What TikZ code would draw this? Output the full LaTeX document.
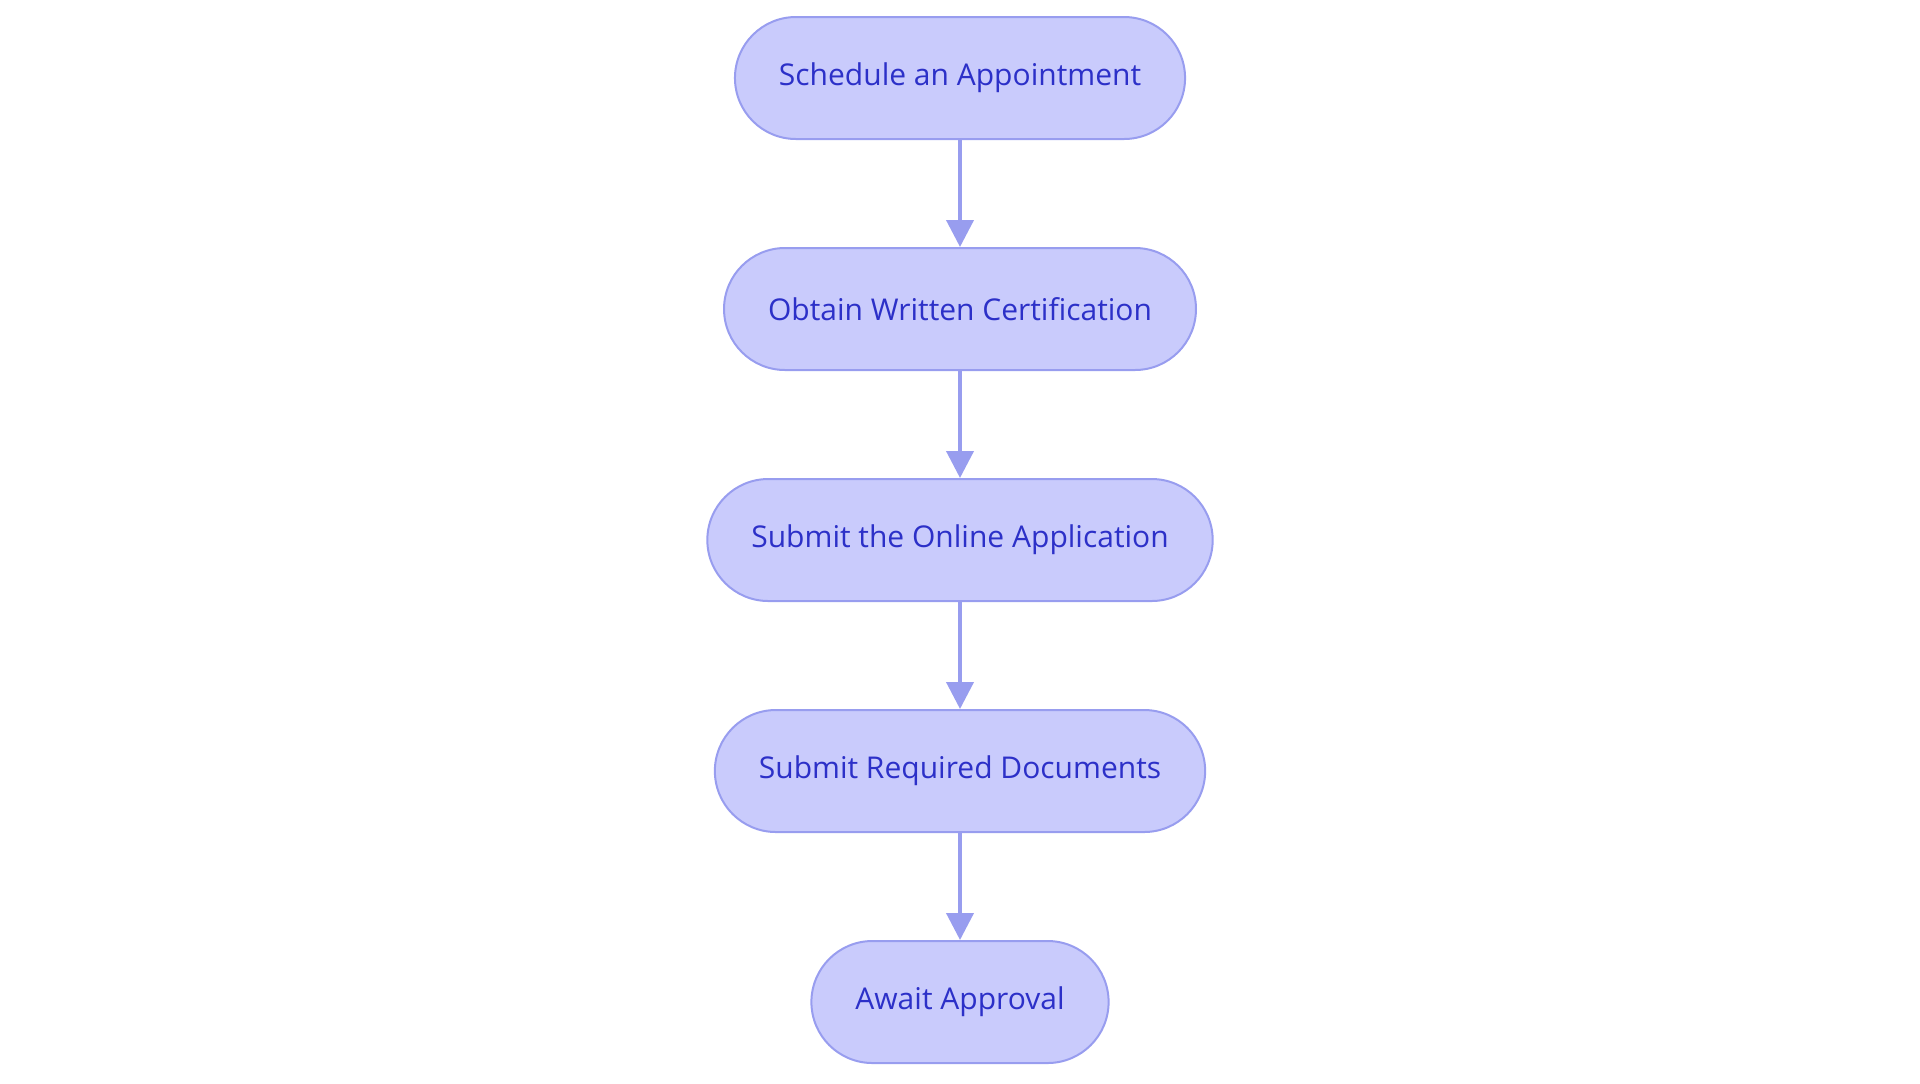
\documentclass[tikz,border=0pt]{standalone}
\usepackage{fontspec}
\setmainfont{Open Sans}
\usetikzlibrary{arrows.meta}
\definecolor{stepfill}{RGB}{201,203,252}
\definecolor{stepline}{RGB}{152,157,239}
\definecolor{steptext}{RGB}{44,48,200}
\tikzset{
  stepbox/.style={draw=stepline, fill=stepfill, line width=1pt,
    rounded corners=30.5pt, minimum height=61pt, inner xsep=22pt,
    text=steptext, font=\fontsize{15}{18}\selectfont},
  flow/.style={draw=stepline, line width=2pt,
    -{Triangle[length=13.5pt,width=13.5pt]}}
}
\begin{document}
\begin{tikzpicture}[x=0.5pt,y=-0.5pt]
\useasboundingbox (0,0) rectangle (1920,1083);

\node[stepbox] (appt) at (960,78) {Schedule an Appointment};
\node[stepbox] (cert) at (960,309) {Obtain Written Certification};
\node[stepbox] (apply) at (960,540) {Submit the Online Application};
\node[stepbox] (docs) at (960,771) {Submit Required Documents};
\node[stepbox] (wait) at (960,1002) {Await Approval};

\foreach \a/\b in {appt/cert, cert/apply, apply/docs, docs/wait}
     \draw[flow] (\a) -- (\b);

\end{tikzpicture}
\end{document}
